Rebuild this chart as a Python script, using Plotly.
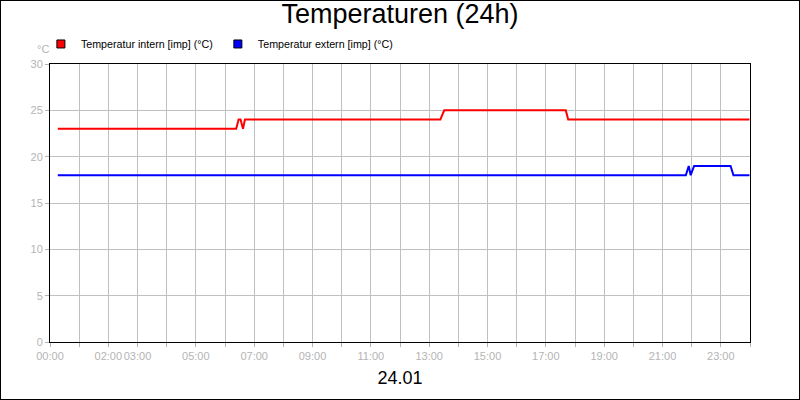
import plotly.graph_objects as go

day = "2024-01-24"

# Temperatur intern
t_intern = ["00:16", "06:23", "06:28", "06:32", "06:37", "06:41", "13:23", "13:31",
            "17:41", "17:46", "23:59"]
v_intern = [23, 23, 24, 24, 23, 24, 24, 25, 25, 24, 24]

# Temperatur extern
t_extern = ["00:16", "21:48", "21:54", "21:58", "22:05", "23:20", "23:26", "23:59"]
v_extern = [18, 18, 19, 18, 19, 19, 18, 18]

hours = ["%02d:00" % h for h in range(25)]
shown = ["00:00", "02:00", "03:00", "05:00", "07:00", "09:00", "11:00", "13:00",
         "15:00", "17:00", "19:00", "21:00", "23:00"]

def stamp(hhmm):
    if hhmm == "24:00":
        return "2024-01-25 00:00"
    return day + " " + hhmm

font = "Liberation Sans, Arial, sans-serif"
grey = "#b4b4b4"

fig = go.Figure()
fig.add_trace(go.Scatter(x=[stamp(t) for t in t_intern], y=v_intern, mode="lines",
                         line=dict(color="#ff0000", width=2), showlegend=False))
fig.add_trace(go.Scatter(x=[stamp(t) for t in t_extern], y=v_extern, mode="lines",
                         line=dict(color="#0000ff", width=2), showlegend=False))

# legend entries with square swatches
for name, col in [("Temperatur intern [imp] (°C)", "#ff0000"),
                  ("Temperatur extern [imp] (°C)", "#0000ff")]:
    fig.add_trace(go.Scatter(x=[None], y=[None], mode="markers", name=name,
                             marker=dict(symbol="square", size=8, color=col,
                                         line=dict(color="black", width=1))))

fig.update_layout(
    width=800, height=400,
    margin=dict(l=50, r=50, t=64, b=58, autoexpand=False),
    paper_bgcolor="white", plot_bgcolor="white",
    font=dict(family=font, color="black"),
    title=dict(text="Temperaturen (24h)", x=0.5, xanchor="center", y=0.99, yanchor="top",
               font=dict(size=27, color="black")),
    legend=dict(orientation="h", x=-0.013, xanchor="left", y=1.072, yanchor="middle",
                font=dict(size=10.7, color="black"), itemwidth=30, tracegroupgap=0,
                bgcolor="rgba(0,0,0,0)"),
    shapes=[dict(type="rect", xref="paper", yref="paper",
                 x0=-50 / 700, x1=1 + 50 / 700, y0=-58 / 278, y1=1 + 64 / 278,
                 line=dict(color="black", width=2), layer="above")],
    annotations=[dict(text="°C", xref="paper", yref="paper", x=1 / 700, y=1 + 7 / 278,
                      xanchor="right", yanchor="bottom", showarrow=False,
                      font=dict(size=11, color=grey))],
)

fig.update_xaxes(
    type="date", range=[stamp("00:00"), stamp("24:00")],
    tickvals=[stamp(h) for h in hours],
    ticktext=[h if h in shown else "" for h in hours],
    tickangle=0, automargin=False,
    ticks="outside", ticklen=4, tickcolor=grey,
    tickfont=dict(size=11, color=grey),
    showgrid=True, gridcolor="#c0c0c0", gridwidth=1,
    showline=True, linecolor="black", linewidth=1, mirror=True,
    title=dict(text="24.01", font=dict(size=18, color="black"), standoff=10),
)
fig.update_yaxes(
    range=[0, 30], dtick=5, tick0=0, automargin=False,
    ticks="outside", ticklen=4, tickcolor=grey,
    tickfont=dict(size=11, color=grey),
    showgrid=True, gridcolor="#c0c0c0", gridwidth=1,
    showline=True, linecolor="black", linewidth=1, mirror=True,
    zeroline=False,
)

fig.write_html("out.html", config={"displayModeBar": False},
               post_script="document.body.style.margin='0';")
